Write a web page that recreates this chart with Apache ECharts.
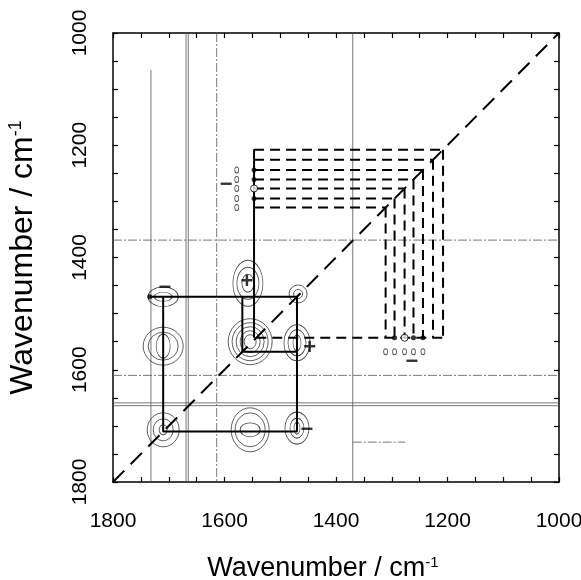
<!DOCTYPE html>
<html><head><meta charset="utf-8">
<script src="https://cdn.jsdelivr.net/npm/echarts@6/dist/echarts.min.js"></script>
<style>html,body{margin:0;padding:0;background:#fff}#c{width:581px;height:580px}</style>
</head><body><div id="c"></div>
<script>
// ---------- data (wavenumbers, cm-1) ----------
const axisMin = 1000;
const axisMax = 1800;
const tickLabels = [1800, 1600, 1400, 1200, 1000];
const diagonal = [[1800, 1800], [1000, 1000]];
// solid correlation paths (x, y)
const solidPaths = [
  [[1734, 1470], [1470, 1470], [1470, 1710], [1710, 1710], [1710, 1470]],
  [[1547, 1207], [1547, 1543]],
  [[1568, 1470], [1568, 1568], [1470, 1568]]
];
// dashed correlation levels
const dashLevels = [1208, 1226, 1244, 1261, 1277, 1295, 1311];
const dashStartX = 1547;
const dashEndY = 1543;
// thin zero-level contour lines
const thinLines = [
  [[1732, 1066], [1732, 1800]],
  [[1669, 1000], [1669, 1800]],
  [[1665, 1000], [1665, 1800]],
  [[1370, 1000], [1370, 1800]],
  [[1800, 1659], [1000, 1659]],
  [[1800, 1664], [1000, 1664]]
];
const thinDashedLines = [
  [[1614, 1000], [1614, 1800]],
  [[1800, 1369], [1000, 1369]],
  [[1800, 1610], [1000, 1610]],
  [[1370, 1729], [1276, 1729]]
];
// contour peak centres
const blobCenters = [
  [1710, 1470], [1710, 1558], [1710, 1707],
  [1558, 1446], [1554, 1550], [1470, 1552],
  [1468, 1465], [1554, 1707], [1470, 1704]
];
const plusSigns = [[1560, 1444], [1447, 1561]];
const minusSigns = [[1707, 1454], [1264, 1586], [1597, 1271], [1452, 1707]];
const peakDots = [
  [1734, 1470], [1547, 1244], [1547, 1261], [1547, 1295],
  [1295, 1543], [1261, 1543], [1244, 1543]
];
const openDots = [[1277, 1543], [1547, 1277]];
const smallOvals = [
  [1311, 1568], [1295, 1568], [1277, 1568], [1261, 1568], [1244, 1568],
  [1578, 1311], [1578, 1295], [1578, 1277], [1578, 1261], [1578, 1244]
];

// ---------- styles ----------
const FONT = '"Liberation Sans", Arial, Helvetica, sans-serif';
const ringSizes = [
  [[30, 20], [18, 9]],
  [[40, 38], [30, 28], [14, 24]],
  [[32, 34], [20, 22], [8, 10]],
  [[30, 46], [22, 32], [12, 18]],
  [[44, 46], [36, 38], [28, 30], [20, 22], [12, 14]],
  [[26, 36], [18, 26], [8, 16]],
  [[18, 18], [9, 9]],
  [[38, 44], [30, 34], [20, 14]],
  [[24, 32], [14, 20], [6, 12]]
];
const dashStyle = { color: '#000', width: 2, type: [10, 6] };

const series = [];
function addPath(data, style, z) {
  series.push({ type: 'line', data: data, symbol: 'none', showSymbol: false,
    lineStyle: style, z: z, silent: true, animation: false });
}
thinLines.forEach(p => addPath(p, { color: '#555', width: 0.8 }, 1));
thinDashedLines.forEach(p => addPath(p, { color: '#555', width: 0.8, type: [9, 2, 2, 2] }, 1));
solidPaths.forEach(p => addPath(p, { color: '#000', width: 2 }, 4));
dashLevels.forEach(v => {
  addPath([[dashStartX, v], [v, v]], dashStyle, 4);
  addPath([[v, v], [v, dashEndY]], dashStyle, 4);
});
addPath([[dashEndY, dashEndY], [dashLevels[0], dashEndY]], dashStyle, 4);
addPath(diagonal, { color: '#000', width: 2, type: [16, 9] }, 5);

const ringData = [];
blobCenters.forEach((c, i) => ringSizes[i].forEach(s => ringData.push({ value: c, symbolSize: s })));
series.push({ type: 'scatter', data: ringData, symbol: 'circle', silent: true, animation: false,
  itemStyle: { color: 'rgba(0,0,0,0)', borderColor: '#222', borderWidth: 0.9 }, z: 3 });
series.push({ type: 'scatter', data: peakDots, symbol: 'circle', symbolSize: 5, silent: true,
  animation: false, itemStyle: { color: '#000' }, z: 6 });
series.push({ type: 'scatter', data: openDots, symbol: 'circle', symbolSize: 7, silent: true,
  animation: false, itemStyle: { color: '#fff', borderColor: '#000', borderWidth: 1 }, z: 6 });
series.push({ type: 'scatter', data: smallOvals, symbol: 'circle', symbolSize: [4, 6], silent: true,
  animation: false, itemStyle: { color: 'rgba(0,0,0,0)', borderColor: '#222', borderWidth: 0.9 }, z: 6 });
function addSigns(data, txt) {
  series.push({ type: 'scatter', data: data, symbol: 'circle', symbolSize: 1, silent: true, animation: false,
    itemStyle: { color: 'rgba(0,0,0,0)' },
    label: { show: true, position: 'inside', formatter: txt, fontSize: 22, fontWeight: 'bold',
      color: '#000', fontFamily: FONT }, z: 7 });
}
addSigns(plusSigns, '+');
addSigns(minusSigns, '\u2212');

const nameStyle = (size, pad) => ({ fontSize: size, color: '#000', fontFamily: FONT, padding: pad,
  rich: { s: { fontSize: Math.round(size * 0.55), verticalAlign: 'top', color: '#000', fontFamily: FONT } } });
const line = { show: true, onZero: false, lineStyle: { color: '#000', width: 1.5 } };
const tick = { show: true, inside: true, length: 5, lineStyle: { color: '#000', width: 1.2 } };
const minor = { show: true, splitNumber: 4, length: 5, lineStyle: { color: '#000', width: 1.2 } };
const fmt = v => tickLabels.indexOf(v) >= 0 ? String(v) : '';

const option = {
  animation: false,
  backgroundColor: '#fff',
  grid: { left: 113, right: 22, top: 33, bottom: 98, containLabel: false, outerBoundsMode: 'none' },
  xAxis: [
    { type: 'value', min: axisMin, max: axisMax, interval: 200, inverse: true, position: 'bottom',
      axisLine: line, axisTick: tick, minorTick: minor, splitLine: { show: false },
      axisLabel: { fontSize: 21, color: '#000', fontFamily: FONT, margin: 29, formatter: fmt },
      name: 'Wavenumber / cm{s|-1}', nameLocation: 'middle', nameGap: 73,
      nameTextStyle: nameStyle(27, [0, 26, 0, 0]) },
    { type: 'value', min: axisMin, max: axisMax, interval: 200, inverse: true, position: 'top',
      axisLine: line, axisTick: tick, minorTick: minor, splitLine: { show: false }, axisLabel: { show: false } }
  ],
  yAxis: [
    { type: 'value', min: axisMin, max: axisMax, interval: 200, inverse: true, position: 'left',
      axisLine: line, axisTick: tick, minorTick: minor, splitLine: { show: false },
      axisLabel: { fontSize: 21, color: '#000', fontFamily: FONT, margin: 22, rotate: 90, formatter: fmt },
      name: 'Wavenumber / cm{s|-1}', nameLocation: 'middle', nameGap: 74, nameTextStyle: nameStyle(32, 0) },
    { type: 'value', min: axisMin, max: axisMax, interval: 200, inverse: true, position: 'right',
      axisLine: line, axisTick: tick, minorTick: minor, splitLine: { show: false }, axisLabel: { show: false } }
  ],
  series: series
};
const chart = echarts.init(document.getElementById('c'), null, { renderer: 'canvas' });
chart.setOption(option);
</script>
</body></html>
